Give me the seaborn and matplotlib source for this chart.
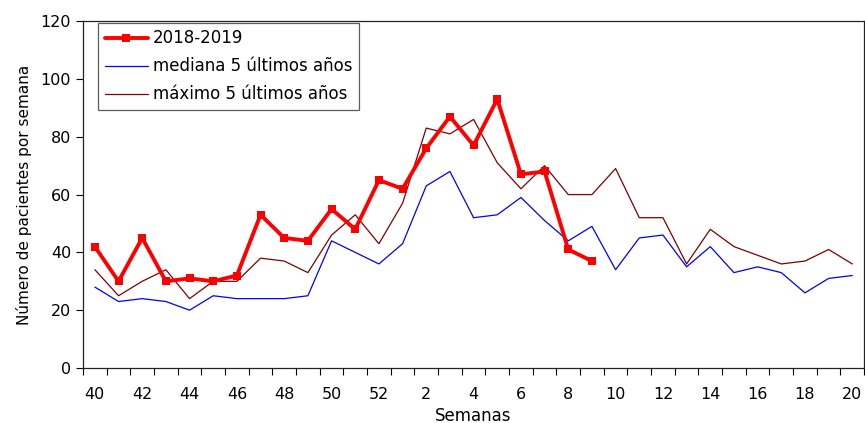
import pandas as pd
import numpy as np
import seaborn as sns
import matplotlib.pyplot as plt

weeks = list(range(40, 53)) + list(range(1, 21))

actual_2018_2019 = [42, 30, 45, 30, 31, 30, 32, 53, 45, 44, 55, 48, 65,
                    62, 76, 87, 77, 93, 67, 68, 41, 37]
mediana_5 = [28, 23, 24, 23, 20, 25, 24, 24, 24, 25, 44, 40, 36,
             43, 63, 68, 52, 53, 59, 51, 44, 49, 34, 45, 46, 35, 42, 33, 35, 33, 26, 31, 32]
maximo_5 = [34, 25, 30, 34, 24, 30, 30, 38, 37, 33, 46, 53, 43,
            57, 83, 81, 86, 71, 62, 70, 60, 60, 69, 52, 52, 36, 48, 42, 39, 36, 37, 41, 36]

pos = np.arange(len(weeks))
df_actual = pd.DataFrame({'pos': pos[:len(actual_2018_2019)], 'val': actual_2018_2019})
df_med = pd.DataFrame({'pos': pos, 'val': mediana_5})
df_max = pd.DataFrame({'pos': pos, 'val': maximo_5})

sns.set_style("white")
plt.rcParams['font.family'] = ['DejaVu Sans']
plt.rcParams['text.color'] = 'black'
plt.rcParams['axes.labelcolor'] = 'black'
plt.rcParams['xtick.color'] = 'black'
plt.rcParams['ytick.color'] = 'black'

fig = plt.figure(figsize=(8.65, 4.23), dpi=100)
ax = fig.add_axes([0.096, 0.130, 0.903, 0.820])

sns.lineplot(data=df_actual, x='pos', y='val', ax=ax, color='#ff0000', linewidth=2.8,
             marker='s', markersize=5.5, markeredgewidth=0, label='2018-2019', zorder=3)
sns.lineplot(data=df_med, x='pos', y='val', ax=ax, color='#0000ff', linewidth=0.9,
             label='mediana 5 últimos años', zorder=2)
sns.lineplot(data=df_max, x='pos', y='val', ax=ax, color='#800000', linewidth=0.9,
             label='máximo 5 últimos años', zorder=2)

ax.set_xlim(-0.5, len(weeks) - 0.5)
ax.set_ylim(0, 120)
ax.set_yticks(range(0, 121, 20))
ax.set_xticks(pos[::2])
ax.set_xticklabels([str(w) for w in weeks[::2]])
ax.set_xticks(np.arange(-0.5, len(weeks), 1), minor=True)
ax.tick_params(axis='x', which='both', bottom=True)
ax.tick_params(axis='x', which='major', length=0, pad=14, labelsize=11.5)
ax.tick_params(axis='x', which='minor', length=5, width=0.8, direction='out', color='black')
ax.tick_params(axis='y', which='major', left=True, length=5, width=0.8, direction='out',
               color='black', labelsize=11.5)

for s in ax.spines.values():
    s.set_color('#222222')
    s.set_linewidth(0.9)

ax.set_xlabel('Semanas', fontsize=12, labelpad=3)
ax.set_ylabel('Número de pacientes por semana', fontsize=11, labelpad=6)

leg = ax.legend(loc='upper left', bbox_to_anchor=(0.017, 1.0), fontsize=12,
                frameon=True, fancybox=False, edgecolor='#333333', handlelength=2.6,
                borderpad=0.4, labelspacing=0.6, handletextpad=0.3, borderaxespad=0.1)
leg.get_frame().set_linewidth(0.9)

fig.savefig('out.png', dpi=100)
